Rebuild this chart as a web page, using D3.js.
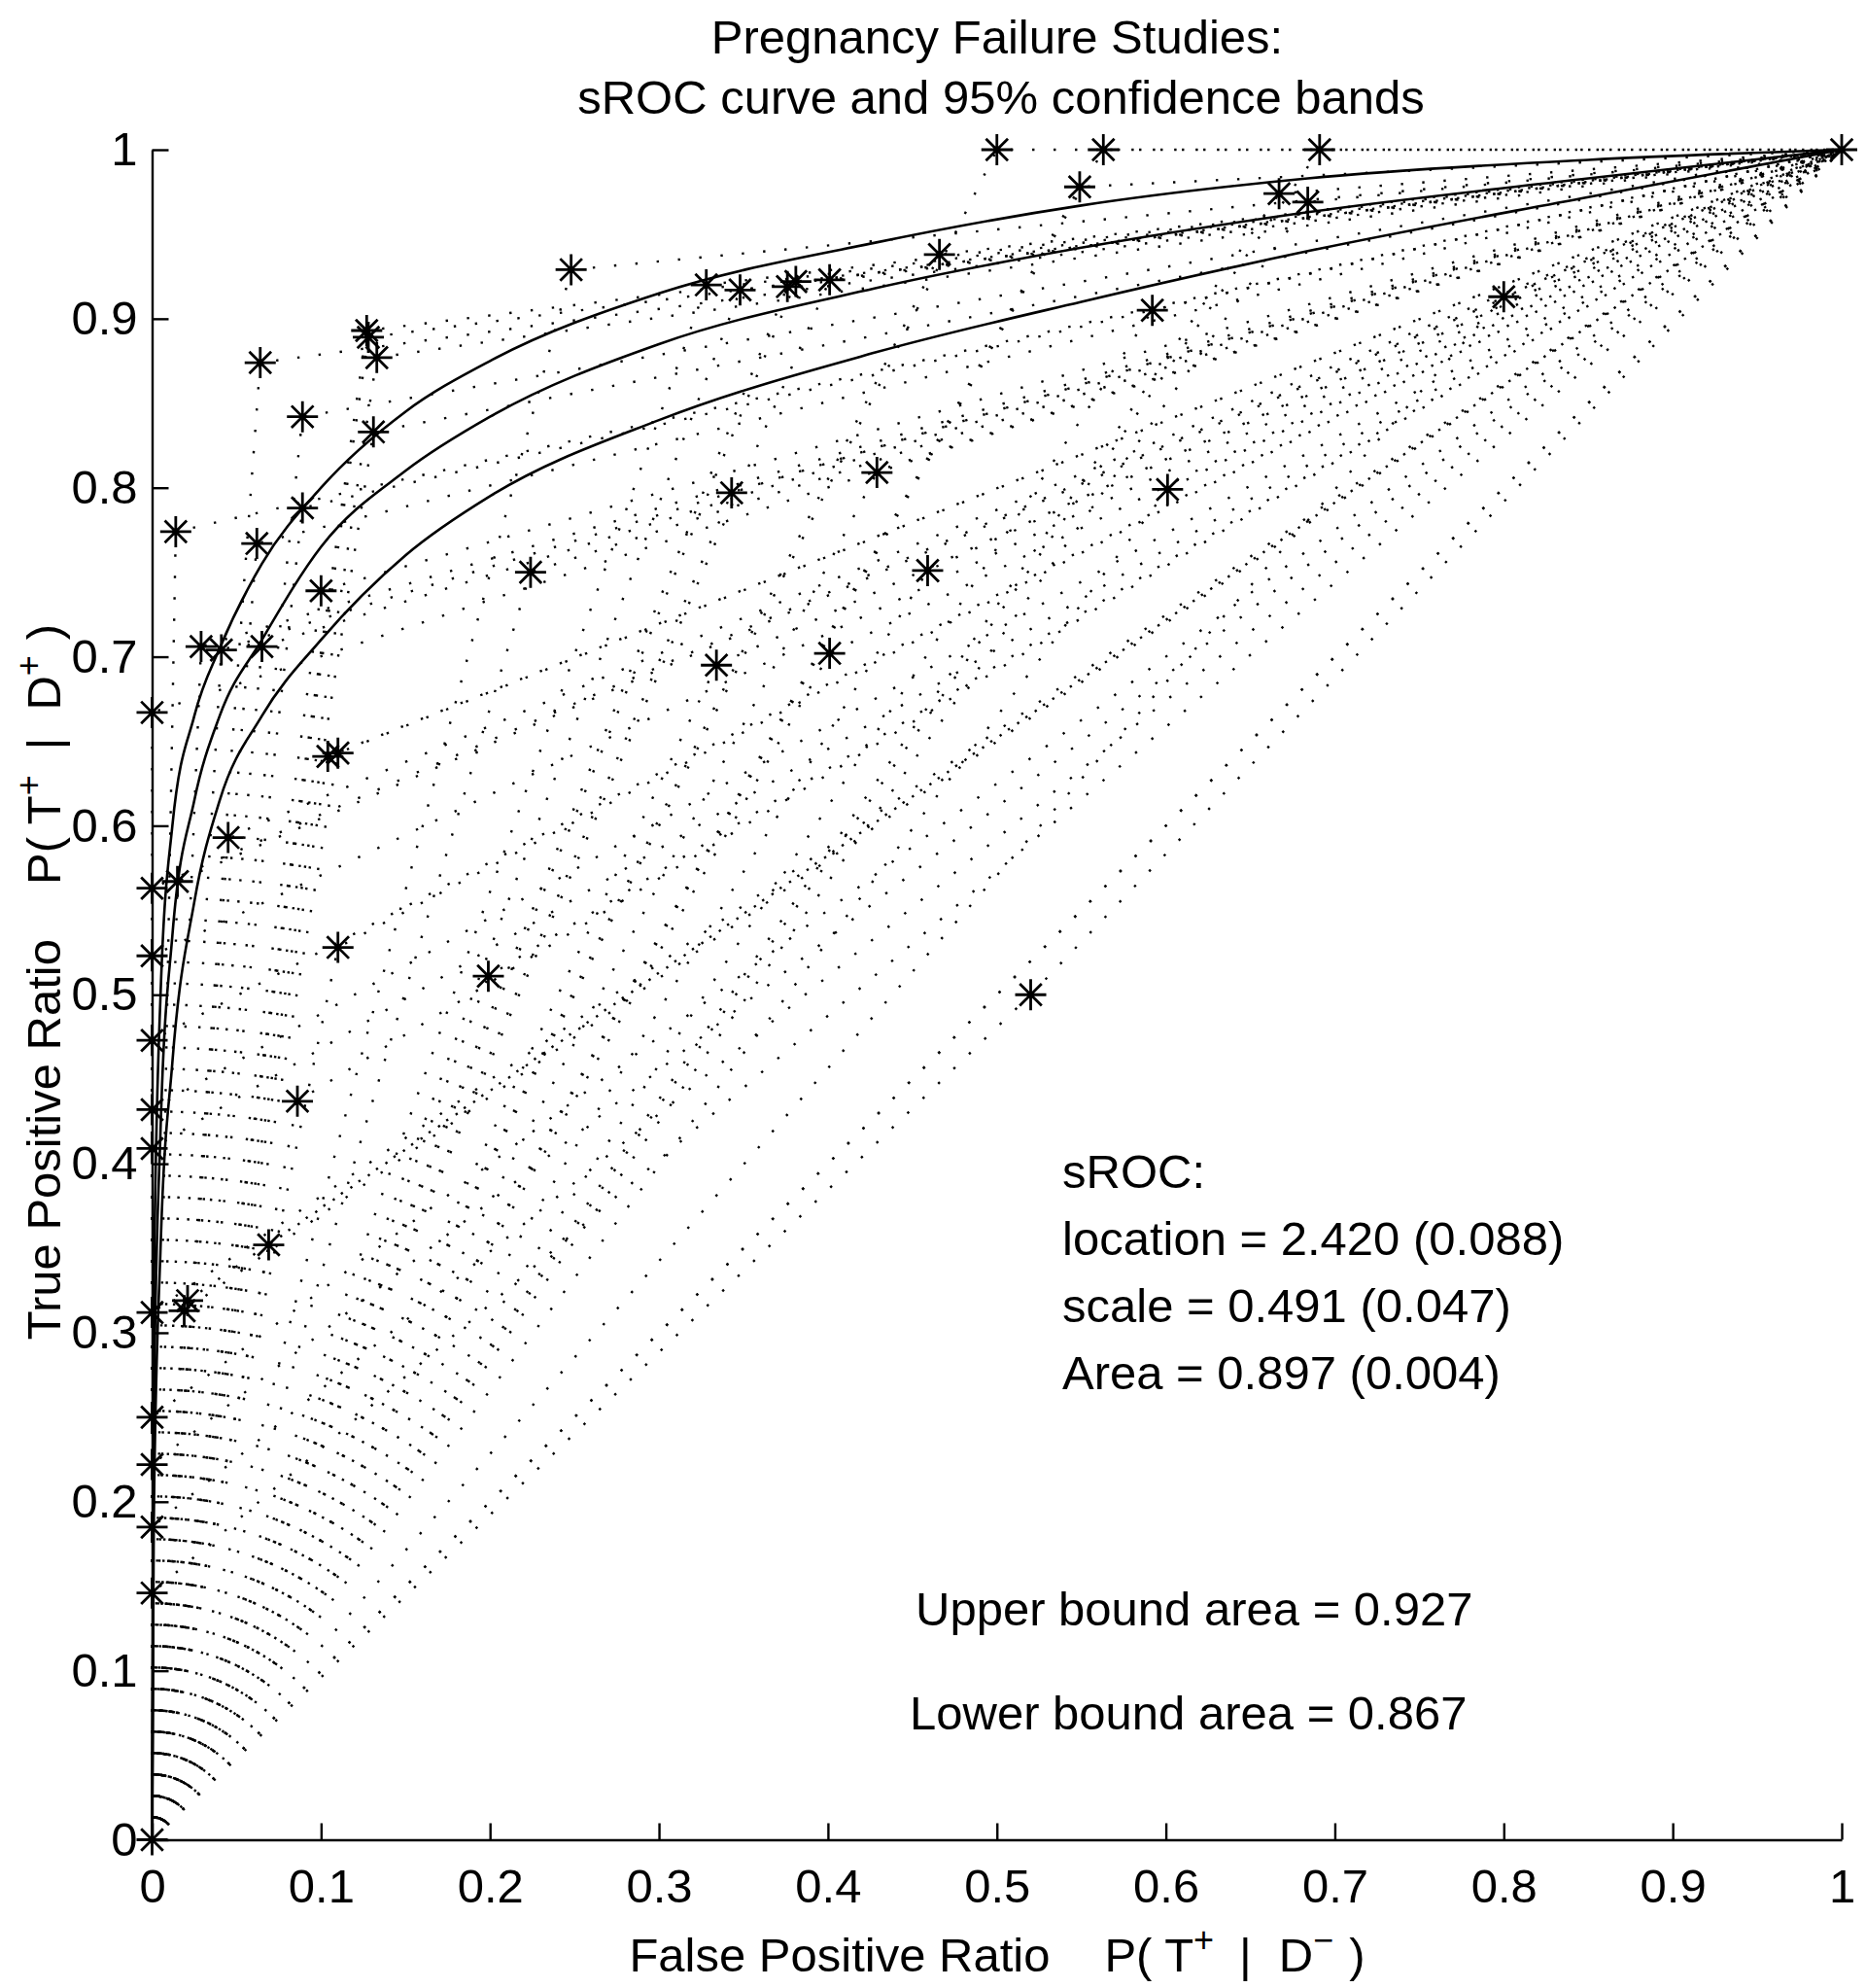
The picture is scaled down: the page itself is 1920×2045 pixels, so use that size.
<!DOCTYPE html>
<html>
<head>
<meta charset="utf-8">
<script src="https://cdnjs.cloudflare.com/ajax/libs/d3/7.8.5/d3.min.js"></script>
<style>
  body { margin: 0; background: #fff; }
  svg { display: block; }
  text { font-family: "Liberation Sans", Arial, Helvetica, sans-serif; fill: #000; }
</style>
</head>
<body>
<svg id="chart" width="1920" height="2045"></svg>
<script>
// Study points: false positive ratio / true positive ratio
var studyFpr = [0.500, 0.563, 0.691, 1.000, 0.549, 0.667, 0.684, 0.466, 0.248, 0.328,
                0.348, 0.376, 0.381, 0.401, 0.800, 0.592, 0.127, 0.128, 0.133, 0.064,
                0.089, 0.131, 0.089, 0.014, 0.062, 0.343, 0.429, 0.601, 0.100, 0.224,
                0.459, 0.029, 0.041, 0.065, 0.334, 0.401, 0.104, 0.110, 0.000, 0.045,
                0.015, 0.000, 0.000, 0.110, 0.199, 0.520, 0.000, 0.000, 0.086, 0.000,
                0.069, 0.021, 0.019, 0.000, 0.000, 0.000, 0.000, 0.000, 0.000]
var studyTpr = [1.000, 1.000, 1.000, 1.000, 0.978, 0.974, 0.969, 0.938, 0.929, 0.920,
                0.917, 0.919, 0.922, 0.923, 0.913, 0.905, 0.893, 0.889, 0.877, 0.874,
                0.842, 0.833, 0.788, 0.774, 0.767, 0.797, 0.809, 0.799, 0.739, 0.750,
                0.751, 0.706, 0.704, 0.706, 0.695, 0.702, 0.641, 0.643, 0.667, 0.593,
                0.567, 0.563, 0.523, 0.528, 0.511, 0.500, 0.473, 0.432, 0.437, 0.409,
                0.352, 0.319, 0.313, 0.312, 0.250, 0.222, 0.185, 0.146, 0.000]

var curveFpr = [0, 0.001, 0.005, 0.012, 0.025, 0.04, 0.065, 0.1, 0.15, 0.2,
                0.3, 0.428, 0.55, 0.684, 0.85, 1]
var upperTpr = [0, 0.32, 0.50, 0.60, 0.665, 0.705, 0.755, 0.800, 0.845, 0.875,
                0.915, 0.945, 0.967, 0.983, 0.994, 1]
var srocTpr  = [0, 0.25, 0.42, 0.535, 0.615, 0.665, 0.710, 0.765, 0.810, 0.842,
                0.885, 0.918, 0.942, 0.963, 0.983, 1]
var lowerTpr = [0, 0.19, 0.35, 0.46, 0.555, 0.615, 0.665, 0.710, 0.760, 0.795,
                0.840, 0.880, 0.910, 0.940, 0.972, 1]

var tickValues = [0, 0.1, 0.2, 0.3, 0.4, 0.5, 0.6, 0.7, 0.8, 0.9, 1]
var tickLabels = ["0", "0.1", "0.2", "0.3", "0.4", "0.5", "0.6", "0.7", "0.8", "0.9", "1"]

var statLines = ["sROC:", "location = 2.420 (0.088)", "scale = 0.491 (0.047)", "Area = 0.897 (0.004)"]
var boundLines = ["Upper bound area = 0.927", "Lower bound area = 0.867"]

var svg = d3.select("#chart")
var fontSize = 49

var x = d3.scaleLinear().domain([0, 1]).range([156.5, 1895])
var y = d3.scaleLinear().domain([0, 1]).range([1892.5, 154])

var line = d3.line().x(function(d) { return x(d[0]) }).y(function(d) { return y(d[1]) })

// dotted study lines (0,0) -> study -> (1,1)
var studies = studyFpr.map(function(f, i) { return [f, studyTpr[i]] })
svg.append("g")
  .selectAll("path")
  .data(studies)
  .join("path")
    .attr("d", function(d) { return line([[0, 0], d, [1, 1]]) })
    .attr("fill", "none")
    .attr("stroke", "#000")
    .attr("stroke-width", 2.4)
    .attr("stroke-dasharray", "2.4 19.6")

// solid curves
var smooth = d3.line().curve(d3.curveMonotoneX)
  .x(function(d) { return x(d[0]) }).y(function(d) { return y(d[1]) })
;[upperTpr, srocTpr, lowerTpr].forEach(function(series) {
  svg.append("path")
    .attr("d", smooth(curveFpr.map(function(f, i) { return [f, series[i]] })))
    .attr("fill", "none")
    .attr("stroke", "#000")
    .attr("stroke-width", 2.6)
})

// axes
var xAxis = svg.append("g")
  .attr("transform", "translate(0," + y(0) + ")")
  .call(d3.axisBottom(x).tickValues(tickValues)
    .tickFormat(function(d, i) { return tickLabels[i] })
    .tickSizeInner(-17).tickSizeOuter(0).tickPadding(30))
var yAxis = svg.append("g")
  .attr("transform", "translate(" + x(0) + ",0)")
  .call(d3.axisLeft(y).tickValues(tickValues)
    .tickFormat(function(d, i) { return tickLabels[i] })
    .tickSizeInner(-17).tickSizeOuter(0).tickPadding(15))
;[xAxis, yAxis].forEach(function(g) {
  g.select(".domain").attr("stroke", "#000").attr("stroke-width", 2.4)
  g.selectAll(".tick line").attr("stroke", "#000").attr("stroke-width", 2.4)
  g.selectAll(".tick text")
    .style("font-family", '"Liberation Sans", Arial, sans-serif')
    .style("font-size", fontSize + "px")
    .attr("fill", "#000")
})

// asterisk markers
var r = 16, dg = 11.3
var star = "M" + (-r) + ",0H" + r + "M0," + (-r) + "V" + r +
           "M" + (-dg) + "," + (-dg) + "L" + dg + "," + dg +
           "M" + (-dg) + "," + dg + "L" + dg + "," + (-dg)
svg.append("g")
  .selectAll("path")
  .data(studies)
  .join("path")
    .attr("transform", function(d) { return "translate(" + x(d[0]) + "," + y(d[1]) + ")" })
    .attr("d", star)
    .attr("fill", "none")
    .attr("stroke", "#000")
    .attr("stroke-width", 2.8)

// title
svg.append("text").attr("x", 1026).attr("y", 55)
  .attr("text-anchor", "middle").style("font-size", fontSize + "px")
  .text("Pregnancy Failure Studies:")
svg.append("text").attr("x", 1030).attr("y", 117)
  .attr("text-anchor", "middle").style("font-size", fontSize + "px")
  .text("sROC curve and 95% confidence bands")

// axis labels with superscripts
function axisLabel(g, name, sup2) {
  g.append("tspan").text(name)
  g.append("tspan").attr("dx", 56).text("P( T")
  g.append("tspan").attr("dy", -20).style("font-size", "36px").text("+")
  g.append("tspan").attr("dy", 20).attr("dx", 26).text("|")
  g.append("tspan").attr("dx", 28).text("D")
  g.append("tspan").attr("dy", -20).style("font-size", "36px").text(sup2)
  g.append("tspan").attr("dy", 20).attr("dx", 16).text(")")
}
var xl = svg.append("text").attr("x", 1026).attr("y", 2028)
  .attr("text-anchor", "middle").style("font-size", fontSize + "px")
axisLabel(xl, "False Positive Ratio", "\u2212")
var yl = svg.append("text")
  .attr("transform", "translate(62,1010) rotate(-90)")
  .attr("text-anchor", "middle").style("font-size", fontSize + "px")
axisLabel(yl, "True Positive Ratio", "+")

// statistics text
svg.append("g").selectAll("text")
  .data(statLines)
  .join("text")
    .attr("x", 1093)
    .attr("y", function(d, i) { return 1222 + i * 69 })
    .style("font-size", fontSize + "px")
    .text(function(d) { return d })
svg.append("text").attr("x", 942).attr("y", 1672)
  .style("font-size", fontSize + "px").text(boundLines[0])
svg.append("text").attr("x", 936).attr("y", 1779)
  .style("font-size", fontSize + "px").text(boundLines[1])
</script>
</body>
</html>
